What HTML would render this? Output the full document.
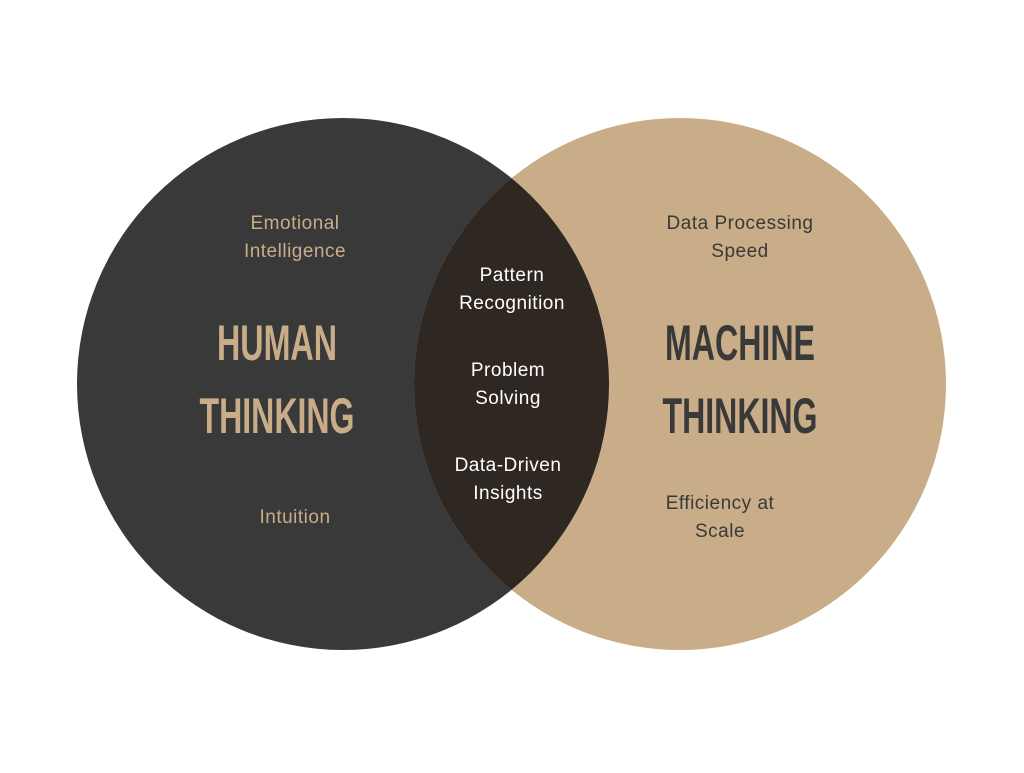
<!DOCTYPE html>
<html><head><meta charset="utf-8"><style>html,body{margin:0;padding:0;background:#fff;}</style></head>
<body>
<svg width="1024" height="768" viewBox="0 0 1024 768" xmlns="http://www.w3.org/2000/svg">
<rect width="1024" height="768" fill="#fff"/>
<defs><clipPath id="cl"><circle cx="343" cy="384" r="266"/></clipPath></defs>
<circle cx="343" cy="384" r="266" fill="#393939"/>
<circle cx="680" cy="384" r="266" fill="#c8ad88"/>
<circle cx="680" cy="384" r="266" fill="#2f2721" clip-path="url(#cl)"/>
<g font-family="Liberation Sans, sans-serif" font-weight="bold" text-anchor="middle">
<text x="277" y="360" font-size="50" fill="#c8ad88" textLength="120" lengthAdjust="spacingAndGlyphs">HUMAN</text>
<text x="277" y="433" font-size="50" fill="#c8ad88" textLength="155" lengthAdjust="spacingAndGlyphs">THINKING</text>
<text x="740" y="360" font-size="50" fill="#393939" textLength="150" lengthAdjust="spacingAndGlyphs">MACHINE</text>
<text x="740" y="433" font-size="50" fill="#393939" textLength="155" lengthAdjust="spacingAndGlyphs">THINKING</text>
</g>
<g font-family="Liberation Sans, sans-serif" font-size="19" letter-spacing="0.5" text-anchor="middle">
<g fill="#c8ad88">
<text x="295" y="229">Emotional</text>
<text x="295" y="257">Intelligence</text>
<text x="295" y="523">Intuition</text>
</g>
<g fill="#ffffff">
<text x="512" y="281">Pattern</text>
<text x="512" y="309">Recognition</text>
<text x="508" y="376">Problem</text>
<text x="508" y="404">Solving</text>
<text x="508" y="471">Data-Driven</text>
<text x="508" y="499">Insights</text>
</g>
<g fill="#393939">
<text x="740" y="229">Data Processing</text>
<text x="740" y="257">Speed</text>
<text x="720" y="509">Efficiency at</text>
<text x="720" y="537">Scale</text>
</g>
</g>
</svg>
</body></html>
